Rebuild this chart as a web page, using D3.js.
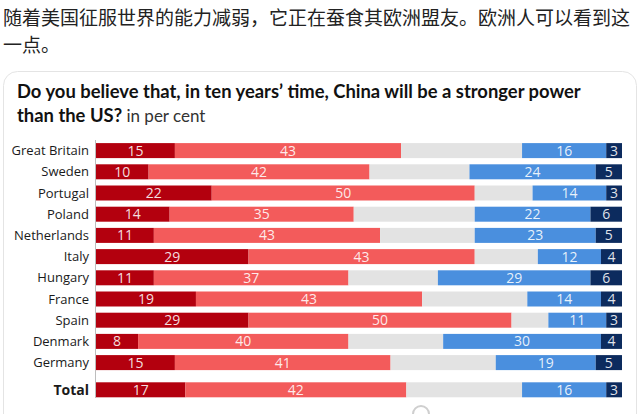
<!DOCTYPE html>
<html>
<head>
<meta charset="utf-8">
<script src="https://cdn.jsdelivr.net/npm/d3@7"></script>
<style>
  body { margin: 0; background: #fff; }
  svg { display: block; }
</style>
</head>
<body>
<svg id="chart"></svg>
<script>
// data
const countries = ['Great Britain', 'Sweden', 'Portugal', 'Poland', 'Netherlands', 'Italy',
    'Hungary', 'France', 'Spain', 'Denmark', 'Germany', 'Total'];
const stronglyYes = [15, 10, 22, 14, 11, 29, 11, 19, 29, 8, 15, 17];
const ratherYes = [43, 42, 50, 35, 43, 43, 37, 43, 50, 40, 41, 42];
const ratherNo = [16, 24, 14, 22, 23, 12, 29, 14, 11, 30, 19, 16];
const stronglyNo = [3, 5, 3, 6, 5, 4, 6, 4, 3, 4, 5, 3];

const width = 640;
const height = 414;

const colors = {
    darkRed: '#b3000e',
    red: '#f35b5b',
    grey: '#e3e3e3',
    blue: '#4a8fde',
    navy: '#0c2b5e'
};

const svg = d3.select('#chart')
    .attr('width', width)
    .attr('height', height);

// chinese caption above the card
const caption = svg.append('g')
    .style('font-family', '"Noto Sans CJK SC", sans-serif')
    .style('font-size', '19px')
    .attr('fill', '#222');
caption.append('text').attr('x', 3).attr('y', 25)
    .text('随着美国征服世界的能力减弱，它正在蚕食其欧洲盟友。欧洲人可以看到这');
caption.append('text').attr('x', 3).attr('y', 52)
    .text('一点。');

// card
svg.append('rect')
    .attr('x', 3.5)
    .attr('y', 71.5)
    .attr('width', 633)
    .attr('height', 380)
    .attr('rx', 14)
    .attr('fill', '#fff')
    .attr('stroke', '#e4e4e4');

// title
const title = svg.append('g')
    .style('font-family', 'Lato, "Open Sans", sans-serif')
    .attr('fill', '#111');
title.append('text')
    .attr('x', 17).attr('y', 98)
    .style('font-size', '18.4px').style('font-weight', 'bold')
    .text('Do you believe that, in ten years\u2019 time, China will be a stronger power');
const t2 = title.append('text')
    .attr('x', 17).attr('y', 122)
    .style('font-size', '18.4px');
t2.append('tspan').style('font-weight', 'bold').text('than the US?');
t2.append('tspan').attr('fill', '#333').style('font-size', '17px').text(' in per cent');

// scales
const x = d3.scaleLinear().domain([0, 100]).range([96, 622]);

const step = 21.2;
const pad = (step - 15) / step;
const yBand = d3.scaleBand()
    .domain(countries)
    .range([140, 140 + countries.length * step])
    .paddingInner(pad)
    .paddingOuter(pad / 2);
// extra gap before the total row
const y = (c) => yBand(c) + (c === 'Total' ? 6 : 0);

// build segments
const rows = countries.map((c, i) => {
    const a = stronglyYes[i], b = ratherYes[i], n1 = ratherNo[i], n2 = stronglyNo[i];
    const greyEnd = 100 - n1 - n2;
    return {
        country: c,
        segs: [
            { x0: 0, x1: a, v: a, color: colors.darkRed },
            { x0: a, x1: a + b, v: b, color: colors.red },
            { x0: a + b, x1: greyEnd, v: null, color: colors.grey },
            { x0: greyEnd, x1: greyEnd + n1, v: n1, color: colors.blue },
            { x0: greyEnd + n1, x1: 100, v: n2, color: colors.navy }
        ]
    };
});

const rowG = svg.selectAll('g.row')
    .data(rows)
    .enter()
    .append('g')
    .attr('class', 'row')
    .attr('transform', (d) => `translate(0,${y(d.country)})`);

rowG.selectAll('rect')
    .data((d) => d.segs)
    .enter()
    .append('rect')
    .attr('x', (d) => x(d.x0))
    .attr('y', 0)
    .attr('width', (d) => x(d.x1) - x(d.x0))
    .attr('height', yBand.bandwidth())
    .attr('fill', (d) => d.color);

rowG.selectAll('text.val')
    .data((d) => d.segs.filter((s) => s.v !== null))
    .enter()
    .append('text')
    .attr('class', 'val')
    .attr('x', (d) => (x(d.x0) + x(d.x1)) / 2)
    .attr('y', yBand.bandwidth() / 2)
    .attr('dy', '0.36em')
    .attr('text-anchor', 'middle')
    .style('font-family', '"Open Sans", sans-serif')
    .style('font-size', '14px')
    .attr('fill', '#fff')
    .attr('fill-opacity', 0.88)
    .text((d) => d.v);

// country labels
rowG.append('text')
    .attr('x', 89)
    .attr('y', yBand.bandwidth() / 2)
    .attr('dy', '0.36em')
    .attr('text-anchor', 'end')
    .style('font-family', '"Open Sans", sans-serif')
    .style('font-size', (d) => d.country === 'Total' ? '14px' : '13px')
    .style('font-weight', (d) => d.country === 'Total' ? 'bold' : 'normal')
    .attr('fill', '#1a1a1a')
    .text((d) => d.country);

// axis line
svg.append('line')
    .attr('x1', 95.5).attr('x2', 95.5)
    .attr('y1', 140).attr('y2', 398)
    .attr('stroke', '#bdbdbd');

// watermark remnant
svg.append('circle')
    .attr('cx', 421).attr('cy', 414).attr('r', 8)
    .attr('fill', 'none')
    .attr('stroke', '#cfcfcf')
    .attr('stroke-width', 2);
</script>
</body>
</html>
